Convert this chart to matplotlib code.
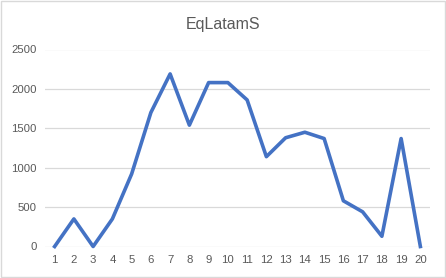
import matplotlib
matplotlib.use("Agg")
import matplotlib.pyplot as plt
from matplotlib.patches import Rectangle

categories = [str(i) for i in range(1, 21)]
values = [0, 350, 0, 350, 920, 1700, 2190, 1540, 2080, 2080,
          1860, 1140, 1380, 1450, 1370, 580, 440, 130, 1370, 0]
yticks = [0, 500, 1000, 1500, 2000, 2500]

fig = plt.figure(figsize=(4.46, 2.78), dpi=100)
ax = fig.add_axes([45 / 446, 31.5 / 278, 385 / 446, 197 / 278])

x = list(range(len(categories)))
ax.plot(x, values, color="#4472C4", lw=2.6, solid_joinstyle="round", zorder=3)

ax.set_xlim(-0.5, len(categories) - 0.5)
ax.set_ylim(0, 2500)
ax.set_xticks(x)
ax.set_xticklabels(categories)
ax.set_yticks(yticks)
ax.set_yticklabels([str(v) for v in yticks])
ax.grid(axis="y", color="#D9D9D9", lw=0.9)
ax.set_axisbelow(True)
for s in ax.spines.values():
    s.set_visible(False)
ax.tick_params(length=0, colors="#595959", labelsize=8.2, pad=6)
for lab in ax.get_xticklabels() + ax.get_yticklabels():
    lab.set_family("Liberation Sans")
for line in ax.get_lines():
    line.set_clip_on(False)

fig.text(223 / 446, 1 - 25 / 278, "EqLatamS", ha="center", va="center",
         fontsize=11.5, color="#595959", family="Liberation Sans")

fig.patches.append(Rectangle((0.002, 0.003), 0.995, 0.993, transform=fig.transFigure,
                             fill=False, edgecolor="#D9D9D9", lw=1))

fig.savefig("out.png", dpi=100)
